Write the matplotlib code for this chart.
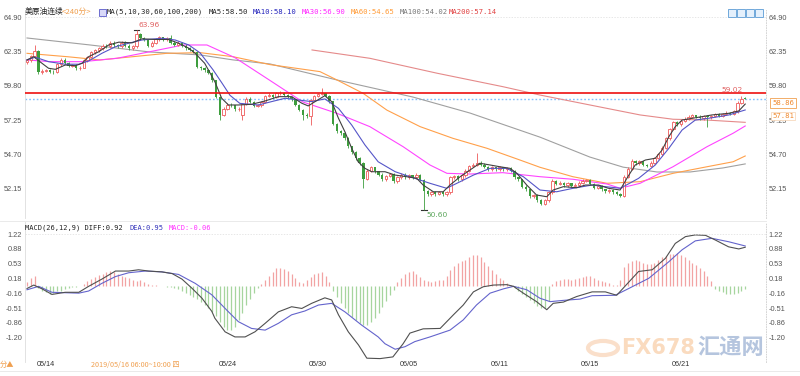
import matplotlib
matplotlib.use('Agg')
import matplotlib.pyplot as plt
from matplotlib.patches import Rectangle, Circle
import numpy as np

CJK = ['Noto Sans CJK SC', 'DejaVu Sans']

# ---------------- data (240-minute bars) ----------------
opens = [
 61.55, 61.70, 62.00, 62.40, 60.80, 60.90, 60.95, 60.85, 60.80, 61.40,
 61.75, 61.50, 61.30, 61.35, 61.10, 61.15, 61.70, 61.95, 62.30, 62.45,
 62.60, 62.80, 62.75, 63.00, 62.85, 62.75, 63.00, 62.80, 62.60, 62.75,
 63.65, 63.35, 63.20, 62.80, 63.00, 63.25, 63.40, 63.25, 63.35, 63.00,
 62.85, 63.00, 62.80, 62.60, 62.50, 62.35, 61.20, 61.10, 60.95, 60.75,
 60.20, 59.00, 57.65, 58.10, 58.40, 58.35, 58.05, 57.60, 58.45, 58.85,
 58.60, 58.30, 58.35, 58.60, 59.05, 59.15, 59.00, 59.25, 59.30, 59.15,
 59.00, 58.80, 58.40, 58.00, 57.65, 57.55, 58.75, 59.05, 59.20, 59.25,
 59.05, 58.65, 57.00, 56.45, 56.30, 55.95, 55.30, 54.85, 54.45, 54.10,
 52.90, 53.50, 53.75, 53.45, 53.20, 52.85, 53.10, 53.25, 52.70, 53.00,
 53.20, 53.00, 53.15, 53.00, 53.20, 52.80, 51.95, 51.75, 51.90, 51.80,
 51.90, 51.75, 51.90, 53.00, 53.10, 52.85, 53.15, 53.50, 53.85, 53.95,
 54.10, 53.95, 53.80, 53.60, 53.75, 53.60, 53.75, 53.60, 53.70, 53.50,
 53.00, 52.85, 52.30, 52.10, 51.60, 51.70, 51.30, 51.05, 51.30, 51.90,
 52.75, 52.50, 52.60, 52.40, 52.55, 52.35, 52.45, 52.60, 52.75, 52.80,
 52.50, 52.20, 52.35, 52.10, 51.95, 52.05, 51.90, 51.80, 51.65, 53.05,
 53.65, 54.20, 54.05, 54.20, 53.95, 53.85, 54.10, 54.45, 54.70, 55.20,
 55.90, 56.60, 57.10, 56.95, 57.20, 57.35, 57.50, 57.60, 57.50, 57.40,
 57.55, 57.45, 57.55, 57.70, 57.55, 57.70, 57.80, 57.70, 57.90, 58.55, 58.90]
closes = [
 61.70, 62.00, 62.40, 60.80, 60.90, 60.95, 60.85, 60.80, 61.40, 61.75,
 61.50, 61.30, 61.35, 61.10, 61.15, 61.70, 61.95, 62.30, 62.45, 62.60,
 62.80, 62.75, 63.00, 62.85, 62.75, 63.00, 62.80, 62.60, 62.75, 63.65,
 63.35, 63.20, 62.80, 63.00, 63.25, 63.40, 63.25, 63.35, 63.00, 62.85,
 63.00, 62.80, 62.60, 62.50, 62.35, 61.20, 61.10, 60.95, 60.75, 60.20,
 59.00, 57.65, 58.10, 58.40, 58.35, 58.05, 58.10, 58.45, 58.85, 58.60,
 58.30, 58.35, 58.60, 59.05, 59.15, 59.00, 59.25, 59.30, 59.15, 59.00,
 58.80, 58.40, 58.00, 57.65, 57.55, 58.75, 59.05, 59.20, 59.25, 59.05,
 58.65, 57.00, 56.45, 56.30, 55.95, 55.30, 54.85, 54.45, 54.10, 52.90,
 53.50, 53.75, 53.45, 53.20, 52.85, 53.10, 53.25, 52.70, 53.00, 53.20,
 53.00, 53.15, 53.00, 53.20, 52.80, 51.95, 51.75, 51.90, 51.80, 51.90,
 51.75, 51.90, 53.00, 53.10, 52.85, 53.15, 53.50, 53.85, 53.95, 54.10,
 53.95, 53.80, 53.60, 53.75, 53.60, 53.75, 53.60, 53.70, 53.50, 53.00,
 52.85, 52.30, 52.10, 51.60, 51.70, 51.30, 51.05, 51.30, 51.90, 52.75,
 52.50, 52.60, 52.40, 52.55, 52.35, 52.45, 52.60, 52.75, 52.80, 52.50,
 52.20, 52.35, 52.10, 51.95, 52.05, 51.90, 51.80, 51.65, 53.05, 53.65,
 54.20, 54.05, 54.20, 53.95, 53.85, 54.10, 54.45, 54.70, 55.20, 55.90,
 56.60, 57.10, 56.95, 57.20, 57.35, 57.50, 57.60, 57.50, 57.40, 57.55,
 57.45, 57.55, 57.70, 57.55, 57.70, 57.80, 57.70, 57.90, 58.55, 58.85, 58.86]
highs = [
 61.80, 62.10, 62.85, 62.50, 61.05, 61.05, 61.05, 60.95, 61.50, 61.90,
 61.85, 61.60, 61.45, 61.45, 61.25, 61.80, 62.05, 62.40, 62.55, 62.70,
 62.95, 62.95, 63.15, 63.10, 62.95, 63.10, 63.10, 62.90, 62.85, 63.96,
 63.75, 63.45, 63.30, 63.10, 63.35, 63.50, 63.45, 63.45, 63.60, 63.10,
 63.10, 63.05, 62.90, 62.70, 62.55, 62.40, 61.30, 61.20, 61.05, 60.80,
 60.25, 59.05, 58.25, 58.50, 58.50, 58.40, 58.20, 58.55, 58.95, 58.95,
 58.65, 58.45, 58.70, 59.15, 59.25, 59.20, 59.35, 59.45, 59.35, 59.20,
 59.05, 58.85, 58.45, 58.10, 57.75, 58.85, 59.15, 59.30, 59.67, 59.30,
 59.10, 58.70, 57.05, 56.55, 56.35, 56.00, 55.35, 54.95, 54.55, 54.15,
 53.60, 53.85, 53.80, 53.50, 53.30, 53.20, 53.35, 53.30, 53.10, 53.30,
 53.30, 53.25, 53.20, 53.30, 53.25, 52.85, 52.05, 52.00, 51.95, 51.95,
 51.95, 52.00, 53.10, 53.20, 53.15, 53.25, 53.60, 53.95, 54.05, 54.79,
 54.20, 54.05, 53.85, 53.85, 53.80, 53.85, 53.80, 53.80, 53.75, 53.55,
 53.05, 52.90, 52.40, 52.15, 51.80, 51.75, 51.40, 51.40, 52.00, 52.85,
 52.80, 52.70, 52.65, 52.65, 52.60, 52.55, 52.70, 52.85, 52.90, 52.85,
 52.55, 52.45, 52.40, 52.15, 52.15, 52.10, 51.95, 51.85, 53.15, 53.75,
 54.40, 54.30, 54.30, 54.25, 54.00, 54.20, 54.55, 54.80, 55.30, 56.00,
 56.70, 57.20, 57.20, 57.30, 57.45, 57.60, 57.70, 57.65, 57.60, 57.65,
 57.60, 57.65, 57.80, 57.75, 57.80, 57.90, 57.85, 58.00, 58.65, 59.02, 58.95]
lows = [
 61.45, 61.60, 61.90, 60.70, 60.70, 60.80, 60.75, 60.70, 60.75, 61.30,
 61.40, 61.20, 61.20, 61.00, 61.00, 61.10, 61.60, 61.85, 62.20, 62.35,
 62.50, 62.60, 62.65, 62.70, 62.60, 62.65, 62.70, 62.50, 62.50, 62.65,
 63.20, 63.10, 62.70, 62.70, 62.90, 63.15, 63.15, 63.15, 62.90, 62.75,
 62.75, 62.70, 62.50, 62.40, 62.25, 61.10, 60.95, 60.85, 60.65, 60.10,
 58.90, 57.26, 57.55, 58.00, 58.20, 57.95, 57.95, 57.26, 58.35, 58.50,
 58.20, 58.20, 58.25, 58.50, 58.95, 58.90, 58.90, 59.15, 59.05, 58.90,
 58.70, 58.30, 57.90, 57.26, 57.40, 56.90, 58.65, 58.95, 59.10, 58.95,
 58.55, 56.90, 56.30, 56.15, 55.80, 55.20, 54.70, 54.30, 53.95, 52.20,
 52.80, 53.40, 53.35, 53.10, 52.75, 52.75, 53.00, 52.60, 52.60, 52.90,
 52.90, 52.90, 52.90, 52.90, 52.70, 50.60, 51.60, 51.65, 51.65, 51.70,
 51.65, 51.65, 51.75, 52.90, 52.75, 52.75, 53.05, 53.40, 53.75, 53.85,
 53.85, 53.70, 53.50, 53.50, 53.50, 53.50, 53.50, 53.50, 53.40, 52.90,
 52.75, 52.20, 51.95, 51.50, 51.50, 51.20, 50.95, 50.95, 51.20, 51.80,
 52.40, 52.40, 52.30, 52.30, 52.25, 52.25, 52.35, 52.50, 52.65, 52.40,
 52.10, 52.10, 52.00, 51.85, 51.85, 51.80, 51.70, 51.55, 51.55, 52.95,
 53.55, 53.95, 53.95, 53.85, 53.75, 53.75, 54.00, 54.35, 54.60, 55.10,
 55.80, 56.50, 56.85, 56.85, 57.10, 57.25, 57.40, 57.40, 57.30, 57.30,
 56.77, 57.35, 57.45, 57.45, 57.45, 57.60, 57.60, 57.60, 57.80, 58.45, 58.80]

# moving averages (bar position, value)
ma5_pos = [0, 1.8, 3.4, 5.7, 7.5, 10.1, 12.8, 14.6, 16.3, 19.0, 21.6, 24.3, 27.8, 30.4, 33.9, 37.4,
           40.1, 42.8, 44.5, 47.0, 49.7, 51.5, 53.3, 55.9, 59.4, 63.0, 66.5, 70.0, 72.7, 74.4, 76.2,
           78.8, 80.6, 82.4, 84.1, 85.9, 87.6, 89.4, 91.2, 94.7, 97.4, 100.4, 103.1, 104.8, 107.5,
           110.1, 111.9, 114.6, 117.2, 119.8, 122.5, 125.1, 127.8, 129.6, 132.2, 134.8, 137.5, 139.2,
           141.9, 145.4, 147.7, 151.2, 153.8, 156.9, 158.7, 160.9, 163.6, 166.2, 168.0, 169.8, 171.5,
           173.3, 176.8, 181.2, 185.6, 188.3, 190.0]
ma5_val = [61.73, 61.97, 61.60, 61.11, 61.03, 61.35, 61.30, 61.48, 61.97, 62.34, 62.84, 63.05, 63.00,
           63.30, 63.25, 63.25, 62.97, 62.60, 62.22, 61.48, 60.11, 58.88, 58.38, 58.38, 58.43, 58.68,
           59.00, 59.00, 58.51, 58.31, 58.63, 59.07, 58.63, 57.39, 56.39, 55.16, 54.16, 53.67, 53.42,
           53.42, 53.17, 53.05, 52.93, 52.43, 51.93, 51.93, 52.43, 53.05, 53.55, 54.05, 53.92, 53.79,
           53.67, 53.30, 52.43, 51.69, 51.56, 52.06, 52.31, 52.23, 52.43, 52.43, 52.19, 52.06, 52.93,
           53.92, 54.29, 54.42, 55.03, 56.02, 56.77, 57.26, 57.43, 57.64, 57.76, 57.94, 58.45]
ma10_pos = [0, 2.2, 5.7, 10.1, 13.7, 16.3, 19.8, 23.4, 26.9, 30.4, 35.7, 39.2, 42.8, 45.8, 49.2, 51.6,
            53.7, 56.3, 61.2, 64.7, 68.3, 71.8, 75.3, 78.8, 82.4, 85.9, 89.4, 92.9, 97.4, 101.3, 106.6,
            111.0, 114.6, 118.1, 122.5, 126.9, 131.3, 135.7, 140.1, 144.5, 149.5, 153.0, 157.0, 161.8,
            166.2, 169.8, 173.3, 176.8, 181.2, 185.7, 190.0]
ma10_val = [61.73, 61.93, 61.60, 61.41, 61.41, 61.65, 62.22, 62.71, 62.97, 63.21, 63.34, 63.21, 62.84,
            62.25, 61.00, 60.00, 59.10, 58.50, 58.38, 58.63, 58.88, 58.75, 58.63, 58.83, 58.13, 56.89,
            55.41, 54.16, 53.42, 53.05, 52.56, 52.19, 52.68, 53.17, 53.67, 53.67, 53.05, 52.06, 51.93,
            52.19, 52.43, 52.31, 52.19, 52.93, 53.92, 55.16, 56.52, 57.26, 57.43, 57.64, 58.01]
ma30_pos = [0, 6.1, 14.8, 23.8, 32.5, 41.3, 47.6, 55.0, 64.3, 73.0, 82.0, 90.7, 99.5, 106.6, 111.1,
            117.2, 125.9, 135.7, 144.4, 153.4, 156.9, 162.2, 170.9, 179.9, 186.8, 190.0]
ma30_val = [61.73, 61.60, 61.60, 61.85, 62.34, 62.84, 62.84, 61.90, 60.20, 58.60, 57.76, 56.77, 55.28,
            53.92, 53.30, 53.25, 53.35, 53.05, 52.86, 52.51, 52.19, 52.56, 53.79, 55.28, 56.28, 56.82]
ma60_pos = [0, 10.6, 19.3, 28.0, 37.0, 45.8, 54.5, 64.3, 77.5, 82.0, 88.9, 95.2, 104.0, 112.7, 121.7,
            130.4, 135.7, 144.4, 153.4, 162.2, 170.9, 179.9, 186.8, 190.0]
ma60_val = [62.22, 61.97, 61.73, 61.97, 62.22, 62.27, 61.97, 61.38, 60.86, 60.24, 59.25, 58.00, 56.77,
            55.90, 55.16, 54.29, 53.75, 53.05, 52.56, 52.68, 53.30, 53.79, 54.16, 54.59]
ma100_pos = [0, 16.7, 32.5, 45.8, 54.5, 64.3, 82.0, 102.1, 117.2, 135.7, 148.9, 157.7, 166.7, 175.4,
             184.1, 190.0]
ma100_val = [63.36, 62.84, 62.32, 62.10, 61.73, 61.43, 60.24, 58.97, 57.78, 55.99, 54.51, 53.76, 53.40,
             53.40, 53.70, 54.00]
ma200_pos = [75.4, 90.7, 108.5, 125.9, 135.7, 153.4, 162.2, 170.9, 179.9, 190.0]
ma200_val = [62.47, 61.85, 60.74, 59.74, 59.12, 58.13, 57.64, 57.32, 57.26, 57.09]

# MACD(26,12,9)
macd_hist = [
  0.10, 0.20, 0.25, -0.05, -0.10, -0.14, -0.18, -0.15, -0.12, -0.10,
 -0.06, -0.03, -0.02, -0.01, 0.00, 0.05, 0.12, 0.18, 0.22, 0.26,
  0.30, 0.33, 0.35, 0.34, 0.30, 0.25, 0.22, 0.20, 0.16, 0.12,
  0.14, 0.10, 0.06, 0.04, 0.02, 0.01, 0.00, -0.01, -0.02, -0.03,
 -0.06, -0.10, -0.15, -0.20, -0.25, -0.30, -0.38, -0.45, -0.52, -0.60,
 -0.70, -0.85, -0.95, -1.02, -1.03, -0.95, -0.80, -0.62, -0.45, -0.30,
 -0.16, -0.05, 0.05, 0.15, 0.25, 0.34, 0.42, 0.44, 0.40, 0.35,
  0.28, 0.20, 0.10, 0.08, 0.15, 0.22, 0.28, 0.32, 0.33, 0.25,
  0.10, -0.10, -0.25, -0.40, -0.52, -0.62, -0.72, -0.80, -0.87, -0.91,
 -0.90, -0.85, -0.75, -0.62, -0.48, -0.35, -0.20, -0.08, 0.10, 0.20,
  0.28, 0.33, 0.35, 0.30, 0.22, 0.15, 0.12, 0.10, 0.12, 0.14,
  0.15, 0.25, 0.38, 0.48, 0.55, 0.60, 0.63, 0.70, 0.73, 0.74,
  0.68, 0.58, 0.48, 0.38, 0.28, 0.20, 0.14, 0.08, 0.04, -0.04,
 -0.10, -0.17, -0.25, -0.32, -0.40, -0.46, -0.51, -0.50, -0.35, 0.05,
  0.12, 0.16, 0.18, 0.17, 0.16, 0.18, 0.20, 0.23, 0.25, 0.24,
  0.20, 0.16, 0.13, 0.10, 0.07, 0.04, 0.02, 0.15, 0.45, 0.55,
  0.60, 0.63, 0.60, 0.56, 0.53, 0.53, 0.56, 0.62, 0.68, 0.72,
  0.75, 0.77, 0.78, 0.74, 0.68, 0.63, 0.56, 0.50, 0.43, 0.35,
  0.25, 0.12, -0.06, -0.10, -0.14, -0.17, -0.18, -0.18, -0.16, -0.12, -0.06]
diff_pos = [0, 1.8, 4.0, 6.6, 10.1, 13.7, 16.3, 19.8, 23.4, 26.9, 29.5, 32.2, 35.7, 38.4, 41.0, 43.7,
            46.3, 48.9, 49.7, 52.4, 55.0, 57.7, 60.3, 63.0, 66.5, 70.0, 72.7, 75.3, 78.8, 80.6, 82.4,
            85.0, 87.7, 89.9, 93.4, 96.8, 99.5, 101.3, 104.8, 109.3, 112.8, 115.4, 118.1, 120.7, 123.4,
            126.9, 128.7, 131.3, 134.8, 137.5, 139.2, 141.9, 145.4, 149.5, 153.0, 156.0, 159.2, 161.8,
            165.4, 168.9, 171.5, 174.2, 176.8, 179.5, 182.1, 185.6, 188.3, 190.0]
diff_val = [-0.05, 0.03, -0.06, -0.19, -0.14, -0.14, 0.00, 0.17, 0.36, 0.36, 0.39, 0.36, 0.34, 0.30,
            0.17, -0.05, -0.28, -0.59, -0.75, -1.07, -1.19, -1.19, -1.07, -0.87, -0.60, -0.48, -0.52,
            -0.40, -0.27, -0.32, -0.67, -1.07, -1.38, -1.69, -1.70, -1.66, -1.35, -1.10, -1.00, -0.99,
            -0.67, -0.44, -0.13, -0.01, 0.03, 0.04, 0.00, -0.16, -0.36, -0.55, -0.40, -0.37, -0.24,
            -0.13, -0.13, -0.21, 0.10, 0.35, 0.39, 0.66, 1.01, 1.17, 1.21, 1.20, 1.09, 0.93, 0.88, 0.92]
dea_pos = [0, 3.1, 6.6, 13.7, 16.3, 19.8, 23.4, 26.9, 31.3, 35.7, 40.1, 44.5, 48.9, 53.3, 55.9, 59.4,
           63.0, 66.5, 70.0, 73.5, 77.1, 80.6, 84.1, 88.5, 92.9, 94.7, 97.4, 100.0, 102.6, 106.6,
           111.9, 115.4, 118.9, 122.5, 126.0, 128.7, 132.2, 135.7, 138.4, 141.9, 146.3, 149.5, 155.6,
           159.2, 164.5, 169.8, 173.3, 176.8, 181.2, 185.6, 190.0]
dea_val = [-0.08, 0.00, -0.14, -0.16, -0.11, 0.07, 0.23, 0.32, 0.36, 0.34, 0.28, 0.07, -0.20, -0.60,
           -0.83, -0.99, -1.03, -0.87, -0.67, -0.58, -0.44, -0.40, -0.60, -0.91, -1.19, -1.35, -1.48,
           -1.42, -1.30, -1.19, -1.03, -0.79, -0.44, -0.16, -0.06, 0.00, -0.08, -0.28, -0.36, -0.33,
           -0.30, -0.22, -0.21, -0.05, 0.19, 0.58, 0.86, 1.07, 1.13, 1.05, 0.95]

price_ticks = [64.90, 62.35, 59.80, 57.25, 54.70, 52.15]
macd_ticks = [1.22, 0.88, 0.53, 0.18, -0.16, -0.51, -0.86, -1.20]
date_pos = [5, 53, 77, 101, 125, 149, 173]
date_labels = ['05/14', '05/24', '05/30', '06/05', '06/11', '06/15', '06/21']
resist_level = 59.25
last_price = 58.86

# ---------------- figure ----------------
W, H = 800, 376
fig = plt.figure(figsize=(8, 3.76), dpi=100)
fig.patch.set_facecolor('white')

def fx(px):
    return px / W

def fy(py):
    return 1 - py / H

LEFT, RIGHT = 25, 766
ax = fig.add_axes([fx(LEFT), fy(218), (RIGHT - LEFT) / W, (218 - 10) / H])
ax2 = fig.add_axes([fx(LEFT), fy(362), (RIGHT - LEFT) / W, (362 - 222) / H])

RED = '#ee5a5a'
GREEN = '#3e9e3e'
o = np.array(opens); c = np.array(closes); h = np.array(highs); l = np.array(lows)
x = np.arange(len(c))
up = c >= o
blo = np.minimum(o, c); bhi = np.maximum(o, c)
ax.vlines(x[up], l[up], blo[up], color=RED, lw=0.6, zorder=3)
ax.vlines(x[up], bhi[up], h[up], color=RED, lw=0.6, zorder=3)
ax.vlines(x[~up], l[~up], h[~up], color=GREEN, lw=0.6, zorder=3)
hh = np.maximum(bhi - blo, 0.025)
ax.bar(x[up], hh[up], bottom=blo[up], width=0.62, facecolor='white', edgecolor=RED, lw=0.6, zorder=4)
ax.bar(x[~up], hh[~up], bottom=blo[~up], width=0.62, color=GREEN, lw=0, zorder=4)

ax.plot(ma200_pos, ma200_val, color='#e58a8a', lw=0.8, zorder=2)
ax.plot(ma100_pos, ma100_val, color='#a0a0a0', lw=0.8, zorder=2)
ax.plot(ma60_pos, ma60_val, color='#ffa04a', lw=0.8, zorder=2)
ax.plot(ma30_pos, ma30_val, color='#ff44ff', lw=0.8, zorder=2)
ax.plot(ma10_pos, ma10_val, color='#5555c8', lw=0.8, zorder=5)
ax.plot(ma5_pos, ma5_val, color='#404040', lw=0.8, zorder=5)

ax.axhline(resist_level, color='#ee1111', lw=1.2, zorder=6)
ax.axhline(last_price, color='#7fbfff', lw=1.0, ls=(0, (1.2, 1.5)), zorder=1)

ax.set_xlim(-0.53, 195.5)
ax.set_ylim(49.98, 65.44)
ax.set_yticks(price_ticks)
ax.set_yticklabels(['%.2f' % v for v in price_ticks])
ax.set_xticks([])

# annotations on highs / lows
ax.text(29.4, 64.33, '63.96', color='#e06060', fontsize=5.4, ha='left', va='center')
ax.plot([28.3, 29.7], [63.96, 63.96], color='#333333', lw=0.8)
ax.text(105.6, 50.2, '50.60', color='#5aa55a', fontsize=5.4, ha='left', va='center')
ax.plot([104.3, 105.7], [50.60, 50.60], color='#333333', lw=0.8)
ax.text(186.5, 59.48, '59.02', color='#e06060', fontsize=5.4, ha='center', va='center')

# MACD panel
hv = np.array(macd_hist)
ax2.vlines(x[hv >= 0], 0, hv[hv >= 0], color='#f2a3a3', lw=0.9)
ax2.vlines(x[hv < 0], 0, hv[hv < 0], color='#a6d59e', lw=0.9)
ax2.plot(dea_pos, dea_val, color='#6464cc', lw=0.8)
ax2.plot(diff_pos, diff_val, color='#505050', lw=0.8)
ax2.set_xlim(-0.53, 195.5)
ax2.set_ylim(-1.78, 1.514)
ax2.set_yticks(macd_ticks)
ax2.set_yticklabels(['%.2f' % v for v in macd_ticks])
ax2.set_xticks([])

for a in (ax, ax2):
    a.tick_params(axis='y', which='both', length=0, labelsize=5.3, labelcolor='#555555',
                  labelleft=True, labelright=True, pad=2)
    for t in a.get_yticklabels():
        t.set_fontfamily('Liberation Sans')
    for s in ('top', 'bottom'):
        a.spines[s].set_visible(False)
    a.spines['left'].set_color('#dddddd')
    a.spines['left'].set_linewidth(0.6)
    a.spines['right'].set_color('#cccccc')
    a.spines['right'].set_linewidth(0.6)
    a.spines['right'].set_linestyle((0, (1, 2)))
    a.set_facecolor('none')

ax.axhline(64.90, color='#dddddd', lw=0.5, ls=(0, (2, 2)))
ax2.axhline(1.22, color='#dddddd', lw=0.5, ls=(0, (2, 2)))

# separators
fig.add_artist(plt.Line2D([fx(0), fx(766)], [fy(221), fy(221)], color='#e6e6e6', lw=0.6))
fig.add_artist(plt.Line2D([fx(0), fx(800)], [fy(371), fy(371)], color='#e6e6e6', lw=0.6))

# date labels
for p, lab in zip(date_pos, date_labels):
    fig.text(fx(27 + 3.78 * p), fy(365), lab, fontsize=5.2, color='#333333',
             ha='center', va='center', family='Liberation Sans')
fig.text(fx(91), fy(365), '2019/05/16 06:00~10:00 四', fontsize=5.2, color='#f0a050',
         ha='left', va='center', family=CJK)
fig.text(fx(0), fy(365), '分▲', fontsize=5.2, color='#f0a050', ha='left', va='center', family=CJK)

# title line
ty = fy(12)
fig.text(fx(25), ty, '美原油连续', fontsize=5.6, color='#222222', ha='left', va='center', family=CJK)
fig.text(fx(62), ty, '<240分>', fontsize=5.6, color='#f0a050', ha='left', va='center', family=CJK)
fig.add_artist(Rectangle((fx(99), fy(15.5)), 7 / W, 7 / H, transform=fig.transFigure,
                         facecolor='#d8d8f8', edgecolor='#5a5ac8', lw=0.6))
mono = 'DejaVu Sans Mono'
segs = [(107, 'MA(5,10,30,60,100,200)', '#222222'), (209, 'MA5:58.50', '#222222'),
        (253, 'MA10:58.10', '#2222bb'), (302, 'MA30:56.90', '#ff22ff'),
        (351, 'MA60:54.65', '#ff9933'), (400, 'MA100:54.02', '#777777'),
        (449, 'MA200:57.14', '#e04040')]
for px, s, col in segs:
    fig.text(fx(px), ty, s, fontsize=5.2, color=col, ha='left', va='center', family=mono)

# toolbar icons top right
for i in range(4):
    fig.add_artist(Rectangle((fx(728 + i * 9), fy(17)), 8 / W, 8 / H, transform=fig.transFigure,
                             facecolor='#e4f0fc', edgecolor='#5b9bd5', lw=0.6))

# MACD title
my = fy(228)
fig.text(fx(25), my, 'MACD(26,12,9) DIFF:0.92', fontsize=5.0, color='#222222', ha='left',
         va='center', family=mono)
fig.text(fx(129), my, 'DEA:0.95', fontsize=5.0, color='#3333bb', ha='left', va='center', family=mono)
fig.text(fx(169), my, 'MACD:-0.06', fontsize=5.0, color='#ff33ff', ha='left', va='center', family=mono)

# right price boxes
fig.text(fx(783), fy(103), '58.86', fontsize=5.2, color='#f08a30', ha='center', va='center',
         family=mono, bbox=dict(boxstyle='square,pad=0.25', fc='white', ec='#f0a050', lw=0.6))
fig.text(fx(783), fy(116), '57.81', fontsize=5.2, color='#f08a30', ha='center', va='center',
         family=mono, bbox=dict(boxstyle='square,pad=0.2', fc='white', ec='#f6d2b0', lw=0.5))

# watermark
fig.add_artist(Circle((fx(603), fy(348)), 15 / W, transform=fig.transFigure, fill=False,
                      ec='#f8d2b4', lw=3, alpha=0.7))
fig.text(fx(621), fy(348), 'FX678', fontsize=15, color='#f8cca4', alpha=0.7, ha='left',
         va='center', family='DejaVu Sans', fontweight='bold')
fig.text(fx(697), fy(348), '汇通网', fontsize=16, color='#9db2d4', alpha=0.75, ha='left',
         va='center', family=CJK, fontweight='bold')

fig.savefig('out.png', dpi=100, facecolor='white')
